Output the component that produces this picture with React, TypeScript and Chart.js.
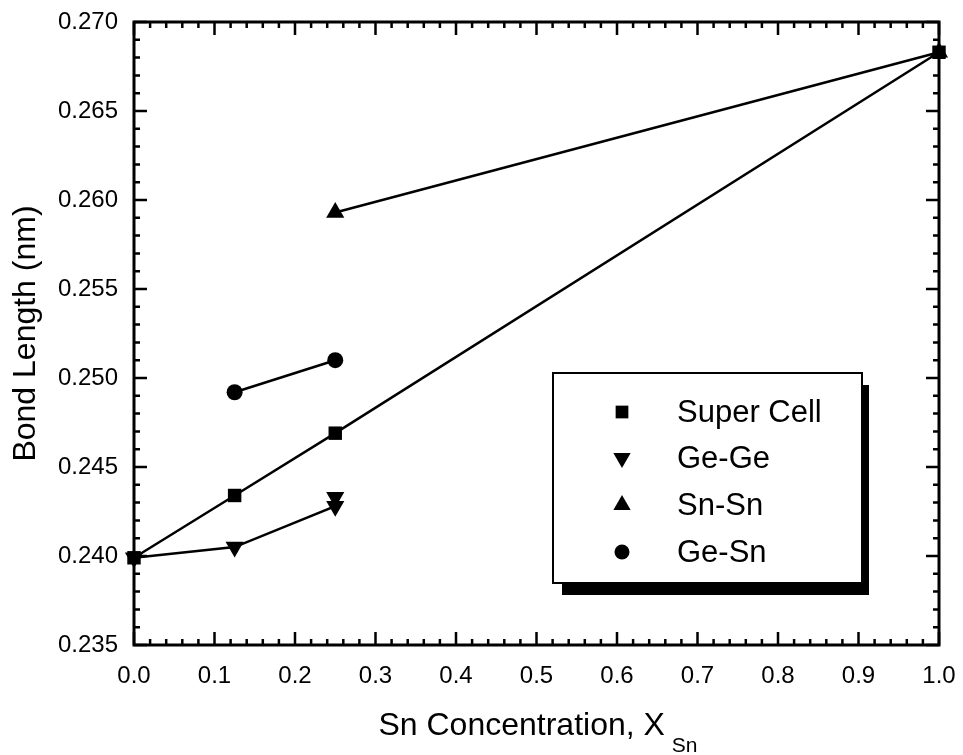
import React, { useEffect, useRef } from "react";
import { Chart, registerables } from "chart.js";

Chart.register(...registerables);

const superCellX = [0, 0.125, 0.25, 1.0];
const superCellY = [0.2399, 0.2434, 0.2469, 0.2683];
const geGeX = [0, 0.125, 0.25, 0.25];
const geGeY = [0.2399, 0.2405, 0.2428, 0.2433];
const snSnX = [0.25, 1.0];
const snSnY = [0.2593, 0.2683];
const geSnX = [0.125, 0.25];
const geSnY = [0.2492, 0.2510];

const legendLabels = ["Super Cell", "Ge-Ge", "Sn-Sn", "Ge-Sn"];
const xTickStep = 0.1;
const yTickStep = 0.005;

const FONT = "'Liberation Sans', Arial, Helvetica, sans-serif";

const toPts = (xs: number[], ys: number[]) => xs.map((x, i) => ({ x, y: ys[i] }));

function drawMarker(ctx: CanvasRenderingContext2D, style: string, x: number, y: number, r: number) {
  ctx.beginPath();
  if (style === "rect") {
    const s = Math.SQRT1_2 * r;
    ctx.rect(x - s, y - s, 2 * s, 2 * s);
  } else if (style === "circle") {
    ctx.arc(x, y, r, 0, Math.PI * 2);
  } else {
    const rot = style === "down" ? Math.PI : 0;
    for (let k = 0; k < 3; k++) {
      const a = rot + (k * 2 * Math.PI) / 3;
      const px = x + Math.sin(a) * r;
      const py = y - Math.cos(a) * r;
      if (k === 0) ctx.moveTo(px, py);
      else ctx.lineTo(px, py);
    }
    ctx.closePath();
  }
  ctx.fill();
}

const framePlugin = {
  id: "frame",
  beforeDatasetsDraw(chart: any) {
    const { ctx, chartArea } = chart;
    const { left, right, top, bottom } = chartArea;
    const xs = chart.scales.x;
    const ys = chart.scales.y;
    ctx.save();
    ctx.strokeStyle = "#000";
    ctx.lineWidth = 2.5;
    ctx.beginPath();
    for (let i = 0; i <= 50; i++) {
      const v = i * 0.02;
      const px = xs.getPixelForValue(v);
      const len = i % 5 === 0 ? 13 : 6;
      ctx.moveTo(px, bottom);
      ctx.lineTo(px, bottom - len);
      ctx.moveTo(px, top);
      ctx.lineTo(px, top + len);
    }
    for (let i = 0; i <= 35; i++) {
      const v = 0.235 + i * 0.001;
      const py = ys.getPixelForValue(v);
      const len = i % 5 === 0 ? 13 : 6;
      ctx.moveTo(left, py);
      ctx.lineTo(left + len, py);
      ctx.moveTo(right, py);
      ctx.lineTo(right - len, py);
    }
    ctx.stroke();
    ctx.lineWidth = 3;
    ctx.strokeRect(left, top, right - left, bottom - top);
    ctx.restore();
  },
  afterDraw(chart: any) {
    const { ctx, chartArea } = chart;
    ctx.save();
    ctx.fillStyle = "#000";
    // y title
    ctx.save();
    ctx.translate(35, (chartArea.top + chartArea.bottom) / 2);
    ctx.rotate(-Math.PI / 2);
    ctx.font = `32px ${FONT}`;
    ctx.textAlign = "center";
    ctx.textBaseline = "alphabetic";
    ctx.fillText("Bond Length (nm)", 0, 0);
    ctx.restore();
    // x title with subscript
    ctx.font = `32px ${FONT}`;
    const main = "Sn Concentration, X";
    const mw = ctx.measureText(main).width;
    ctx.font = `21px ${FONT}`;
    const sw = ctx.measureText("Sn").width;
    const gap = 7;
    const total = mw + gap + sw;
    const startX = 538 - total / 2;
    ctx.textAlign = "left";
    ctx.textBaseline = "alphabetic";
    ctx.font = `32px ${FONT}`;
    ctx.fillText(main, startX, 735);
    ctx.font = `21px ${FONT}`;
    ctx.fillText("Sn", startX + mw + gap, 752);

    // legend
    const bx = 553, by = 373, bw = 309, bh = 210;
    ctx.fillStyle = "#000";
    ctx.fillRect(562, 385, 307, 210);
    ctx.fillStyle = "#fff";
    ctx.fillRect(bx, by, bw, bh);
    ctx.strokeStyle = "#000";
    ctx.lineWidth = 2;
    ctx.strokeRect(bx, by, bw, bh);
    const styles = ["rect", "down", "up", "circle"];
    const radii = [9, 10, 10, 7.5];
    const rowY = [412, 458, 505, 552];
    ctx.fillStyle = "#000";
    ctx.font = `31px ${FONT}`;
    ctx.textAlign = "left";
    ctx.textBaseline = "middle";
    legendLabels.forEach((lab, i) => {
      drawMarker(ctx, styles[i], 622, rowY[i], radii[i]);
      ctx.fillText(lab, 677, rowY[i] + 1);
    });
    ctx.restore();
  },
};

export default function App() {
  const ref = useRef<HTMLCanvasElement | null>(null);
  useEffect(() => {
    if (!ref.current) return;
    const common = {
      borderColor: "#000",
      backgroundColor: "#000",
      borderWidth: 2.5,
      showLine: true,
      clip: false as any,
      pointBorderWidth: 0,
    };
    const chart = new Chart(ref.current, {
      type: "scatter",
      data: {
        datasets: [
          { ...common, label: legendLabels[0], data: toPts(superCellX, superCellY), pointStyle: "rect", pointRadius: 9.5 },
          { ...common, label: legendLabels[1], data: toPts(geGeX, geGeY), pointStyle: "triangle", rotation: 180, pointRadius: 10.5 },
          { ...common, label: legendLabels[2], data: toPts(snSnX, snSnY), pointStyle: "triangle", pointRadius: 10.5 },
          { ...common, label: legendLabels[3], data: toPts(geSnX, geSnY), pointStyle: "circle", pointRadius: 8 },
        ] as any,
      },
      options: {
        animation: false,
        responsive: false,
        devicePixelRatio: 1,
        layout: { padding: { top: 22, right: 24, left: 0, bottom: 0 } },
        plugins: { legend: { display: false }, tooltip: { enabled: false } },
        elements: { line: { tension: 0 } },
        scales: {
          x: {
            type: "linear",
            min: 0,
            max: 1,
            grid: { display: false, drawTicks: false },
            border: { display: false },
            ticks: {
              stepSize: xTickStep,
              padding: 17,
              color: "#000",
              font: { family: FONT, size: 24 },
              callback: (v: any) => Number(v).toFixed(1),
              maxRotation: 0,
            },
            afterFit: (s: any) => {
              s.height = 110;
              s.paddingLeft = 0;
              s.paddingRight = 0;
            },
          },
          y: {
            type: "linear",
            min: 0.235,
            max: 0.27,
            grid: { display: false, drawTicks: false },
            border: { display: false },
            ticks: {
              stepSize: yTickStep,
              padding: 16,
              color: "#000",
              font: { family: FONT, size: 24 },
              callback: (v: any) => Number(v).toFixed(3),
            },
            afterFit: (s: any) => {
              s.width = 134;
              s.paddingTop = 0;
              s.paddingBottom = 0;
            },
          },
        },
      } as any,
      plugins: [framePlugin],
    });
    return () => chart.destroy();
  }, []);
  return (
    <div style={{ position: "fixed", left: 0, top: 0, width: 963, height: 755, background: "#fff" }}>
      <canvas ref={ref} width={963} height={755} style={{ width: 963, height: 755, display: "block" }} />
    </div>
  );
}
